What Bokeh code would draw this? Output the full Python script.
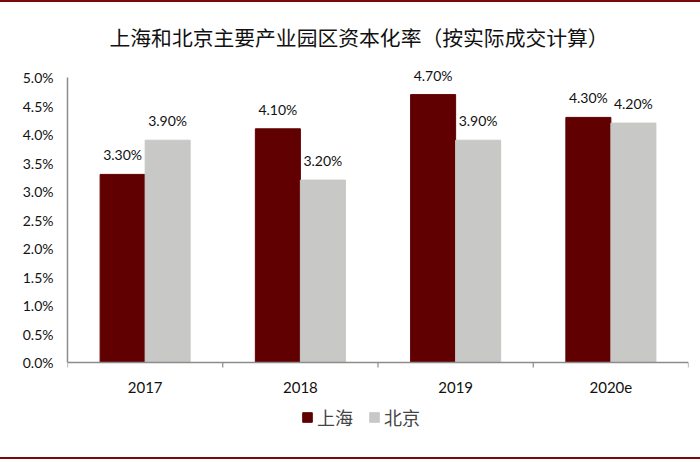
from bokeh.plotting import figure
from bokeh.models import (ColumnDataSource, FixedTicker, NumeralTickFormatter, Range1d,
                          Legend, LegendItem)
from bokeh.transform import dodge
from bokeh.core.properties import value
from bokeh.embed import file_html
from bokeh.resources import INLINE

years = ["2017", "2018", "2019", "2020e"]
shanghai = [0.033, 0.041, 0.047, 0.043]
beijing = [0.039, 0.032, 0.039, 0.042]
series_names = ["上海", "北京"]
y_ticks = [0.0, 0.005, 0.01, 0.015, 0.02, 0.025, 0.03, 0.035, 0.04, 0.045, 0.05]
title_text = "上海和北京主要产业园区资本化率（按实际成交计算）"

RED = "#600000"
GRAY = "#C8C8C6"
LINE = "#7A0A0A"
AXIS = "#8C8C8C"
FONT = "Lato"
CJK = "Noto Sans CJK SC"

Y_MAX = 0.05
PLOT_PX = 285            # pixels for 0..Y_MAX
PX = Y_MAX / PLOT_PX     # data units per pixel
TOP_PAD = 20             # room above 5% for labels
BOT_PAD = 78             # room below 0 for category labels and legend

xs = [i + 0.5 for i in range(len(years))]
source = ColumnDataSource(dict(
    x=xs, sh=shanghai, bj=beijing,
    sh_lbl=[f"{v*100:.2f}%" for v in shanghai],
    bj_lbl=[f"{v*100:.2f}%" for v in beijing],
))
cat_src = ColumnDataSource(dict(x=xs, y=[0.0] * len(years), label=years))
edge_src = ColumnDataSource(dict(x=list(range(len(years) + 1))))

p = figure(frame_width=621, frame_height=PLOT_PX + TOP_PAD + BOT_PAD,
           output_backend="svg", toolbar_location=None,
           x_range=Range1d(0, len(years)),
           y_range=Range1d(-BOT_PAD * PX, Y_MAX + TOP_PAD * PX),
           min_border_left=67, min_border_right=12, min_border_top=55, min_border_bottom=17,
           title=title_text)
p.styles = {"border-top": f"2px solid {LINE}", "border-bottom": f"2px solid {LINE}"}
p.outline_line_color = None
p.xgrid.visible = False
p.ygrid.visible = False
p.xaxis.visible = False

p.title.align = "left"
p.title.offset = 42
p.title.text_font = CJK
p.title.text_font_size = "20.8px"
p.title.text_font_style = "normal"
p.title.text_color = "#111111"
p.title.standoff = 12

bw = 0.29
r1 = p.vbar(x=dodge("x", -bw / 2, range=p.x_range), top="sh", width=bw, source=source,
            fill_color=RED, line_color=RED)
r2 = p.vbar(x=dodge("x", bw / 2, range=p.x_range), top="bj", width=bw, source=source,
            fill_color=GRAY, line_color=GRAY)

for col, lbl, off in (("sh", "sh_lbl", -bw / 2), ("bj", "bj_lbl", bw / 2)):
    p.text(x=dodge("x", off, range=p.x_range), y=col, text=lbl, source=source,
           text_align="center", text_baseline="bottom", y_offset=-11,
           text_font=value(FONT), text_font_size="14px", text_color="#111111")

# category (x) axis drawn at y = 0
p.segment(x0=0, x1=len(years), y0=0, y1=0, line_color=AXIS, line_width=1.5)
p.segment(x0="x", x1="x", y0=0, y1=-5 * PX, source=edge_src, line_color=AXIS, line_width=1.2)
p.text(x="x", y="y", text="label", source=cat_src, y_offset=25,
       text_align="center", text_baseline="middle",
       text_font=value(FONT), text_font_size="15px", text_color="#111111")

# y axis
p.yaxis.ticker = FixedTicker(ticks=y_ticks)
p.yaxis.bounds = (0, Y_MAX)
p.yaxis.formatter = NumeralTickFormatter(format="0.0%")
p.yaxis.major_tick_line_color = None
p.yaxis.minor_tick_line_color = None
p.yaxis.axis_line_color = AXIS
p.yaxis.axis_line_width = 1.5
p.yaxis.major_label_text_font = FONT
p.yaxis.major_label_text_font_size = "14px"
p.yaxis.major_label_text_color = "#111111"
p.yaxis.major_label_standoff = 8

legend = Legend(items=[LegendItem(label=series_names[0], renderers=[r1]),
                       LegendItem(label=series_names[1], renderers=[r2])],
                orientation="horizontal", location=(234, 10),
                label_text_font=CJK, label_text_font_size="18px",
                glyph_width=12, glyph_height=12, spacing=15, padding=2, margin=0,
                label_standoff=4, border_line_color=None, background_fill_alpha=0)
p.add_layout(legend)

open("out.html", "w").write(file_html(p, INLINE))
